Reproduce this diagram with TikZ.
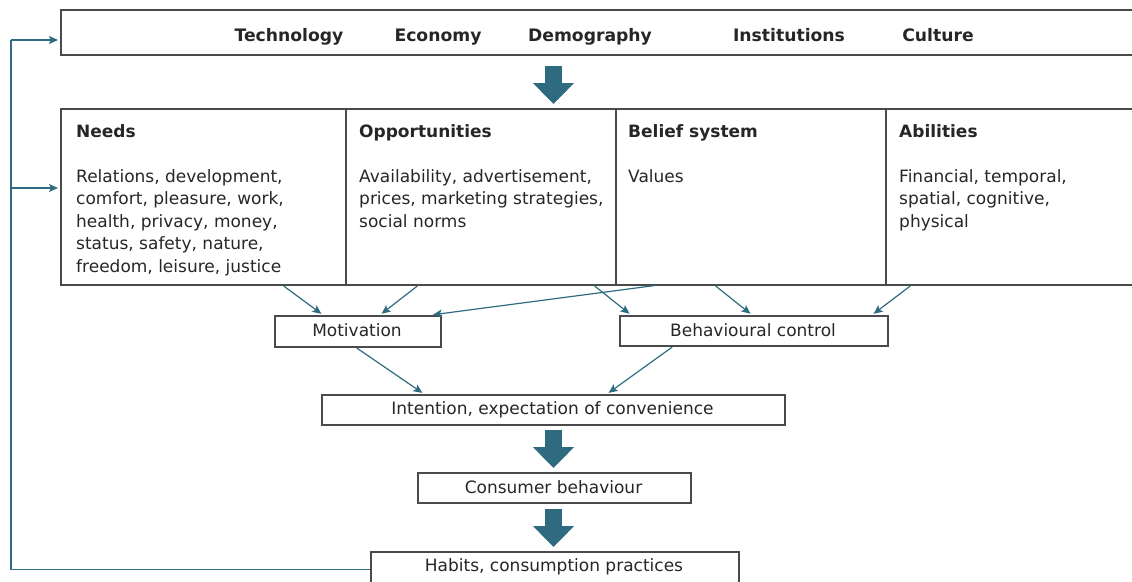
\documentclass[tikz,border=0pt]{standalone}
\usepackage{fontspec}
\setmainfont{DejaVu Sans}
\usetikzlibrary{arrows.meta,calc}
\definecolor{arrteal}{HTML}{2F6B80}
\definecolor{boxgray}{HTML}{4A4A4A}
\definecolor{txtdark}{HTML}{262626}
\begin{document}
\begin{tikzpicture}[x=1pt,y=-1pt,
  box/.style={draw=boxgray, line width=1.5pt, inner sep=0pt, text=txtdark, anchor=north west,
    font=\fontsize{17}{20}\selectfont},
  lbl/.style={inner sep=0pt, text=txtdark, font=\fontsize{17}{20}\selectfont},
  head/.style={inner sep=0pt, text=txtdark, font=\fontsize{17.2}{20}\selectfont\bfseries, anchor=base},
  colhead/.style={inner sep=0pt, text=txtdark, font=\fontsize{17}{20}\selectfont\bfseries, anchor=base west},
  body/.style={inner sep=0pt, text=txtdark, font=\fontsize{17}{22.5}\selectfont, anchor=north west, align=left},
  thin/.style={draw=arrteal, line width=1.2pt, -{Stealth[length=9pt,width=8pt,inset=2pt]}, shorten <=1pt, shorten >=2pt},
  feed/.style={draw=arrteal, line width=1.2pt},
  bigarrow/.style={draw=arrteal, line width=17pt, -{Triangle[length=21pt,width=40pt]}}
]
\useasboundingbox (0,0) rectangle (1132,581);

% top box
\node[box, minimum width=1100pt, minimum height=45pt] (top) at (60,9) {};
\node[head] (tech) at (289,41) {Technology};
\node[head] (econ) at (438,41) {Economy};
\node[head] (demo) at (590,41) {Demography};
\node[head] (inst) at (789,41) {Institutions};
\node[head] (cult) at (938,41) {Culture};

% columns
\node[box, minimum width=285pt, minimum height=176pt] (needs) at (60,108) {};
\node[box, minimum width=270pt, minimum height=176pt] (opp) at (345,108) {};
\node[box, minimum width=270pt, minimum height=176pt] (belief) at (615,108) {};
\node[box, minimum width=280pt, minimum height=176pt] (abil) at (885,108) {};

\node[colhead] (needsh) at (76,137) {Needs};
\node[colhead] (opph) at (359,137) {Opportunities};
\node[colhead] (beliefh) at (628,137) {Belief system};
\node[colhead] (abilh) at (899,137) {Abilities};

\node[body] (needsb) at (76,169) {Relations, development,\\comfort, pleasure, work,\\health, privacy, money,\\status, safety, nature,\\freedom, leisure, justice};
\node[body] (oppb) at (359,169) {Availability, advertisement,\\prices, marketing strategies,\\social norms};
\node[body] (beliefb) at (628,169) {Values};
\node[body] (abilb) at (899,169) {Financial, temporal,\\spatial, cognitive,\\physical};

% middle boxes
\node[box, minimum width=166pt, minimum height=31pt] (mot) at (274,315) {};
\node[lbl] (motl) at (357,330.5) {Motivation};
\node[box, minimum width=268pt, minimum height=30pt] (bc) at (619,315) {};
\node[lbl] (bcl) at (753,330.5) {Behavioural control};
\node[box, minimum width=463pt, minimum height=30pt] (int) at (321,394) {};
\node[lbl] (intl) at (552.5,409.5) {Intention, expectation of convenience};
\node[box, minimum width=273pt, minimum height=30pt] (cons) at (417,472) {};
\node[lbl] (consl) at (553.5,487.5) {Consumer behaviour};
\node[box, minimum width=368pt, minimum height=31pt] (hab) at (370,551) {};
\node[lbl] (habl) at (554,566.5) {Habits, consumption practices};

% big arrows
\coordinate (ax) at (553.5,0);
\draw[bigarrow, shorten <=10pt, shorten >=4pt] (ax |- top.south) -- (ax |- needs.north);
\draw[bigarrow, shorten <=4pt, shorten >=4pt] (ax |- int.south) -- (ax |- cons.north);
\draw[bigarrow, shorten <=5pt, shorten >=4pt] (ax |- cons.south) -- (ax |- hab.north);

% thin arrows
\draw[thin] (283,0 |- needs.south) -- (323,0 |- mot.north);
\draw[thin] (418,0 |- opp.south) -- (380,0 |- mot.north);
\draw[thin] (655,0 |- belief.south) -- (431,0 |- mot.north);
\draw[thin] (594,0 |- opp.south) -- (631,0 |- bc.north);
\draw[thin] (715,0 |- belief.south) -- (752,0 |- bc.north);
\draw[thin] (911,0 |- abil.south) -- (872,0 |- bc.north);
\draw[thin] (356,0 |- mot.south) -- (424,0 |- int.north);
\draw[thin] (673,0 |- bc.south) -- (607,0 |- int.north);

% feedback
\coordinate (fbtop) at (11,40);
\coordinate (fbmid) at (11,188);
\draw[feed] ([yshift=-2.5pt]hab.west) -| (fbtop);
\draw[thin, shorten <=0pt] (fbtop) -- (fbtop -| top.west);
\draw[thin, shorten <=0pt] (fbmid) -- (fbmid -| needs.west);
\end{tikzpicture}
\end{document}
